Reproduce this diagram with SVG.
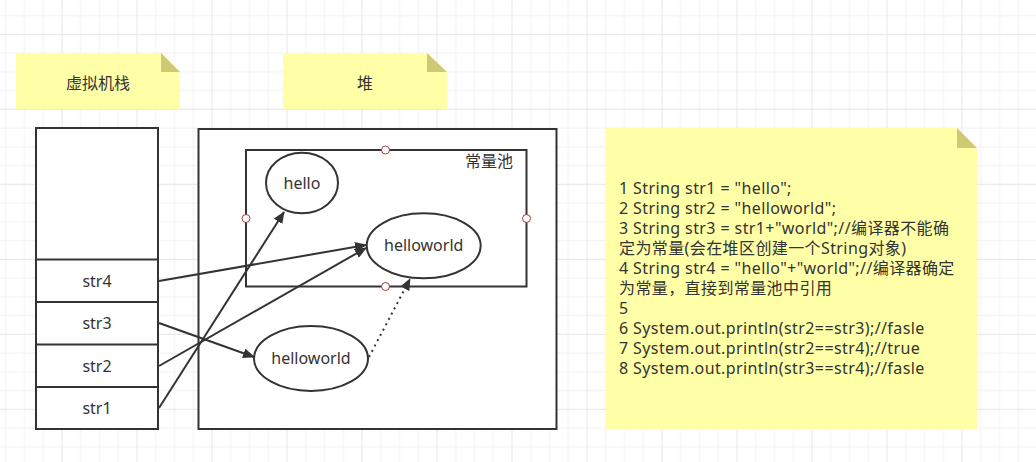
<svg xmlns="http://www.w3.org/2000/svg" width="1036" height="462" viewBox="0 0 1036 462">
<defs>
<pattern id="grid" x="61.5" y="33.8" width="75" height="75" patternUnits="userSpaceOnUse">
<rect x="0" y="0" width="75" height="75" fill="#ffffff"/>
<rect x="18.75" y="0" width="1" height="75" fill="#f1f1f1"/>
<rect x="37.5" y="0" width="1" height="75" fill="#f1f1f1"/>
<rect x="56.25" y="0" width="1" height="75" fill="#f1f1f1"/>
<rect x="0" y="18.75" width="75" height="1" fill="#f1f1f1"/>
<rect x="0" y="37.5" width="75" height="1" fill="#f1f1f1"/>
<rect x="0" y="56.25" width="75" height="1" fill="#f1f1f1"/>
<rect x="0" y="0" width="1" height="75" fill="#e6e6e6"/>
<rect x="0" y="0" width="75" height="1" fill="#e6e6e6"/>
</pattern>
<marker id="arr" viewBox="0 0 12 10" refX="11" refY="5" markerWidth="12" markerHeight="10" markerUnits="userSpaceOnUse" orient="auto">
<path d="M0,0 L12,5 L0,10 Z" fill="#333333"/>
</marker>
</defs>
<style>
.note{fill:#ffffa8;}
.fold{fill:#cfca72;}
.box{fill:#ffffff;stroke:#333333;stroke-width:2;}
.ell{fill:#ffffff;stroke:#333333;stroke-width:2;}
.t{font-family:"Noto Sans","Noto Sans CJK SC",sans-serif;font-size:16px;fill:#333333;text-anchor:middle;dominant-baseline:central;}
.cn{font-family:"Noto Sans CJK SC",sans-serif;font-size:16px;fill:#333333;}
.code{font-family:"Noto Sans","Noto Sans CJK SC",sans-serif;font-size:16px;letter-spacing:0.4px;fill:#333333;}
.pt{fill:#ffffff;stroke:#a04040;stroke-width:1;}
.edge{fill:none;stroke:#333333;stroke-width:2;}
</style>
<rect x="0" y="0" width="1036" height="462" fill="url(#grid)"/>

<g id="note-stack">
<path class="note" d="M16,53 H161 L180,72 V109 H16 Z"/>
<path class="fold" d="M161,53 L180,72 H161 Z"/>
<text class="cn" x="98" y="82" text-anchor="middle" dominant-baseline="central">虚拟机栈</text>
</g>

<g id="note-heap">
<path class="note" d="M283,53 H427 L447,72 V109 H283 Z"/>
<path class="fold" d="M427,53 L447,72 H427 Z"/>
<text class="cn" x="365" y="82" text-anchor="middle" dominant-baseline="central">堆</text>
</g>

<g id="stack">
<rect class="box" x="36" y="128" width="122" height="301"/>
<line class="edge" x1="36" y1="259.5" x2="158" y2="259.5"/>
<line class="edge" x1="36" y1="302" x2="158" y2="302"/>
<line class="edge" x1="36" y1="344.5" x2="158" y2="344.5"/>
<line class="edge" x1="36" y1="387" x2="158" y2="387"/>
</g>
<g id="str4"><text class="t" x="97" y="281">str4</text></g>
<g id="str3"><text class="t" x="97" y="323">str3</text></g>
<g id="str2"><text class="t" x="97" y="366">str2</text></g>
<g id="str1"><text class="t" x="97" y="408">str1</text></g>

<g id="heap">
<rect class="box" x="198.5" y="129" width="358" height="300"/>
</g>

<g id="pool">
<rect class="box" x="246" y="150" width="280.5" height="136.5"/>
<text class="cn" x="513" y="160" text-anchor="end" dominant-baseline="central">常量池</text>
<circle class="pt" cx="385.5" cy="150" r="4"/>
<circle class="pt" cx="246" cy="218.5" r="4"/>
<circle class="pt" cx="526.5" cy="218.5" r="4"/>
<circle class="pt" cx="385.5" cy="286.5" r="4"/>
</g>

<g id="hello">
<ellipse class="ell" cx="302" cy="183" rx="36" ry="30.3"/>
<text class="t" x="302" y="183">hello</text>
</g>

<g id="helloworld-pool">
<ellipse class="ell" cx="423.7" cy="245.8" rx="57" ry="32.5"/>
<text class="t" x="423.7" y="245">helloworld</text>
</g>

<g id="helloworld-heap">
<ellipse class="ell" cx="311" cy="358.5" rx="57" ry="32.5"/>
<text class="t" x="311" y="358">helloworld</text>
</g>

<g id="connectors">
<line class="edge" x1="159" y1="281" x2="366" y2="245" marker-end="url(#arr)"/>
<line class="edge" x1="159" y1="323" x2="254" y2="357" marker-end="url(#arr)"/>
<line class="edge" x1="159" y1="366" x2="366" y2="248" marker-end="url(#arr)"/>
<line class="edge" x1="159" y1="408" x2="284" y2="212" marker-end="url(#arr)"/>
<line class="edge" x1="369" y1="357" x2="410" y2="279" stroke-dasharray="2,4" marker-end="url(#arr)"/>
</g>

<g id="note-code">
<path class="note" d="M606,128 H957 L977,148 V429 H606 Z"/>
<path class="fold" d="M957,128 L977,148 H957 Z"/>
<text class="code" x="619" y="194">1 String str1 = "hello";</text>
<text class="code" x="619" y="214">2 String str2 = "helloworld";</text>
<text class="code" x="619" y="234">3 String str3 = str1+"world";//编译器不能确</text>
<text class="code" x="619" y="254">定为常量(会在堆区创建一个String对象)</text>
<text class="code" x="619" y="274">4 String str4 = "hello"+"world";//编译器确定</text>
<text class="code" x="619" y="294">为常量，直接到常量池中引用</text>
<text class="code" x="619" y="314">5</text>
<text class="code" x="619" y="334">6 System.out.println(str2==str3);//fasle</text>
<text class="code" x="619" y="354">7 System.out.println(str2==str4);//true</text>
<text class="code" x="619" y="374">8 System.out.println(str3==str4);//fasle</text>
</g>
</svg>
